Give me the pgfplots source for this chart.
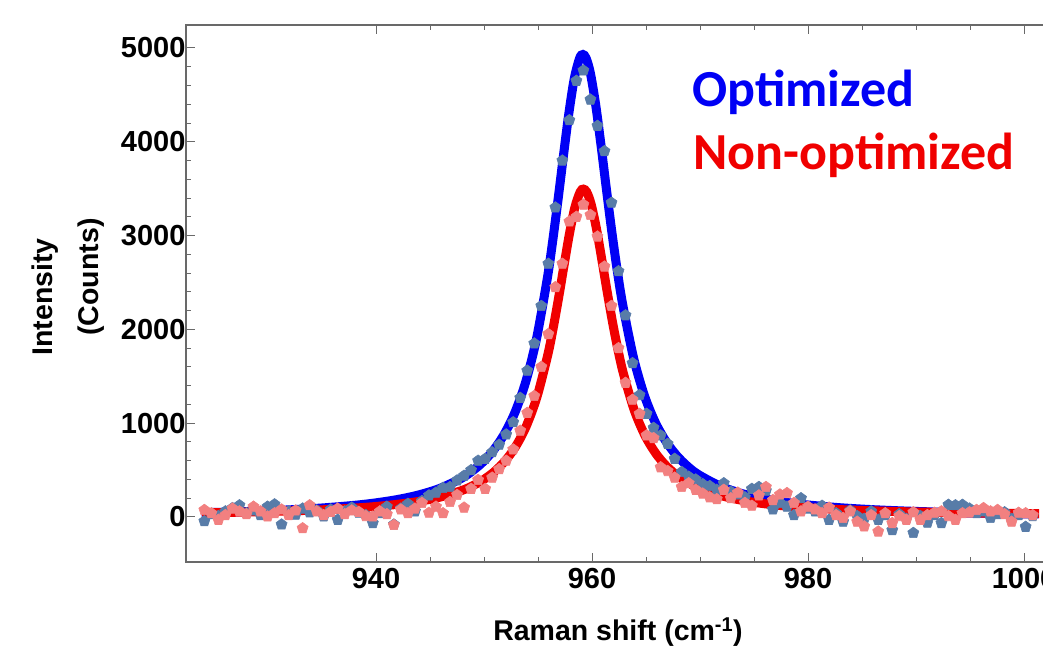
\documentclass[border=0pt]{standalone}
\usepackage{fontspec}
\setmainfont{Liberation Sans}
\newfontfamily\calibri{Carlito}
\usepackage{pgfplots}
\pgfplotsset{compat=1.18}
\usetikzlibrary{plotmarks}
\definecolor{fitblue}{RGB}{0,0,245}
\definecolor{fitred}{RGB}{240,0,0}
\definecolor{ptblue}{RGB}{88,124,168}
\definecolor{ptpink}{RGB}{242,128,128}
\definecolor{framegray}{RGB}{105,105,105}
\begin{document}
\begin{tikzpicture}[x=1pt,y=1pt]
\useasboundingbox (0,0) rectangle (1043,650);
\clip (0,0) rectangle (1043,650);
\begin{axis}[
  at={(186pt,88pt)}, anchor=south west,
  scale only axis, width=892pt, height=537pt,
  xmin=922.4, xmax=1005, ymin=-480, ymax=5245,
  xtick={940,960,980,1000}, minor x tick num=3,
  ytick={0,1000,2000,3000,4000,5000}, minor y tick num=4,
  tick align=inside, major tick length=9pt, minor tick length=5pt,
  axis line style={framegray, line width=1.2pt},
  every tick/.style={framegray, line width=1pt},
  tick label style={font=\fontsize{29}{31}\selectfont\bfseries},
  /pgf/number format/assume math mode=true,
  /pgf/number format/set thousands separator={},
  xticklabel style={yshift=-3pt},
  yticklabel style={xshift=3pt},
  clip=true,
]
% fitted curves
\addplot[fitblue, line width=9pt, smooth] coordinates {
(923.85,45.3)(925.85,50.9)(928.85,61.3)(931.85,75.3)(934.85,94.7)(937.85,122.5)
(939.85,148.4)(941.85,183.3)(943.85,232.0)(945.85,302.4)(947.85,409.1)(948.85,484.4)
(949.85,581.2)(950.85,708.4)(951.85,878.8)(952.85,1112.1)(953.85,1437.3)(954.85,1896.5)
(955.85,2538.6)(956.35,2937.6)(956.85,3382.3)(957.35,3850.7)(957.85,4301.2)(958.35,4671.3)
(958.85,4891.9)(959.15,4930)(959.45,4891.9)(959.85,4729.5)(960.35,4383.8)(960.85,3944)
(961.35,3475)(961.85,3023.4)(962.35,2614.3)(962.85,2257)(963.85,1693.6)(964.85,1293.8)
(965.85,1009.6)(966.85,804.4)(967.85,653.2)(968.85,539.4)(969.85,452.1)(971.85,329.7)
(973.85,250.3)(975.85,196.2)(977.85,157.8)(979.85,129.5)(982.85,99.4)(985.85,78.7)
(988.85,63.8)(991.85,52.7)(994.85,44.3)(997.85,37.8)(1001.35,32)
};
\addplot[fitred, line width=9pt, smooth] coordinates {
(923.9,44)(925.9,48)(928.9,55)(931.9,64)(934.9,76)(937.9,94)(939.9,111)(941.9,134)
(943.9,165)(945.9,211)(947.9,281)(948.9,330)(949.9,394)(950.9,478)(951.9,591)(952.9,746)
(953.9,966)(954.9,1280)(955.9,1728)(956.4,2013)(956.9,2334)(957.4,2678)(957.9,3015)
(958.4,3296)(958.9,3466)(959.2,3495)(959.5,3466)(959.9,3341)(960.4,3078)(960.9,2747)
(961.4,2402)(961.9,2074)(962.4,1782)(962.9,1531)(963.9,1141)(964.9,869)(965.9,678)
(966.9,541)(967.9,441)(968.9,366)(969.9,309)(971.9,229)(973.9,177)(975.9,142)(977.9,117)
(979.9,99)(982.9,79)(985.9,66)(988.9,56)(991.9,49)(994.9,44)(997.9,39)(1001.4,35)
};
% measured points, optimized
\addplot[only marks, mark=pentagon*, mark size=5.8pt, mark options={fill=ptblue, draw=ptblue, line width=0.6pt}] coordinates {
(924.1,-45)(924.75,30)(925.4,10)(926.05,60)(926.7,95)(927.35,125)(928.0,40)(928.65,70)
(929.3,20)(929.95,110)(930.6,135)(931.25,-80)(931.9,60)(932.55,25)(933.2,90)(933.85,50)
(934.5,70)(935.15,5)(935.8,80)(936.45,-30)(937.1,60)(937.75,100)(938.4,45)(939.05,20)
(939.7,-65)(940.35,40)(941.0,110)(941.65,-80)(942.3,90)(942.95,140)(943.6,60)(944.25,170)
(944.9,230)(945.55,260)(946.2,310)(946.85,320)(947.5,390)(948.15,440)(948.8,500)(949.45,600)
(950.1,620)(950.75,690)(951.4,770)(952.05,880)(952.7,1010)(953.35,1270)(954.0,1560)(954.65,1850)
(955.3,2250)(955.95,2700)(956.6,3300)(957.25,3800)(957.9,4230)(958.55,4650)(959.2,4760)(959.85,4450)
(960.5,4170)(961.15,3900)(961.8,3350)(962.45,2620)(963.1,2150)(963.75,1640)(964.4,1300)(965.05,1100)
(965.7,950)(966.35,870)(967.0,780)(967.65,620)(968.3,480)(968.95,430)(969.6,400)(970.25,350)
(970.9,330)(971.55,290)(972.2,360)(972.85,270)(973.5,240)(974.15,210)(974.8,300)(975.45,320)
(976.1,280)(976.75,80)(977.4,150)(978.05,110)(978.7,20)(979.35,200)(980.0,90)(980.65,60)
(981.3,120)(981.95,-30)(982.6,40)(983.25,-50)(983.9,70)(984.55,10)(985.2,-20)(985.85,60)
(986.5,-30)(987.15,20)(987.8,-140)(988.45,30)(989.1,-20)(989.75,-170)(990.4,10)(991.05,-60)
(991.7,20)(992.35,-65)(993.0,130)(993.65,125)(994.3,130)(994.95,90)(995.6,40)(996.25,60)
(996.9,-10)(997.55,30)(998.2,50)(998.85,-20)(999.5,20)(1000.15,-105)(1000.8,10)
};
% measured points, non-optimized
\addplot[only marks, mark=pentagon*, mark size=5.8pt, mark options={fill=ptpink, draw=ptpink, line width=0.6pt}] coordinates {
(924.1,75)(924.75,40)(925.4,-30)(926.05,20)(926.7,90)(927.35,60)(928.0,30)(928.65,110)
(929.3,60)(929.95,5)(930.6,40)(931.25,80)(931.9,20)(932.55,70)(933.2,-120)(933.85,125)
(934.5,60)(935.15,20)(935.8,55)(936.45,90)(937.1,30)(937.75,70)(938.4,55)(939.05,10)
(939.7,5)(940.35,60)(941.0,30)(941.65,-85)(942.3,80)(942.95,40)(943.6,90)(944.25,150)
(944.9,45)(945.55,110)(946.2,40)(946.85,160)(947.5,235)(948.15,100)(948.8,300)(949.45,395)
(950.1,300)(950.75,420)(951.4,510)(952.05,600)(952.7,720)(953.35,920)(954.0,1110)(954.65,1290)
(955.3,1600)(955.95,1950)(956.6,2450)(957.25,2700)(957.9,3150)(958.55,3200)(959.2,3330)(959.85,3220)
(960.5,2990)(961.15,2670)(961.8,2250)(962.45,1800)(963.1,1430)(963.75,1250)(964.4,1100)(965.05,870)
(965.7,840)(966.35,530)(967.0,490)(967.65,420)(968.3,320)(968.95,360)(969.6,290)(970.25,250)
(970.9,210)(971.55,190)(972.2,290)(972.85,200)(973.5,260)(974.15,150)(974.8,120)(975.45,230)
(976.1,320)(976.75,180)(977.4,240)(978.05,255)(978.7,150)(979.35,60)(980.0,110)(980.65,80)
(981.3,40)(981.95,100)(982.6,20)(983.25,-10)(983.9,60)(984.55,-50)(985.2,-100)(985.85,20)
(986.5,-155)(987.15,40)(987.8,-65)(988.45,10)(989.1,-30)(989.75,50)(990.4,-30)(991.05,20)
(991.7,45)(992.35,60)(993.0,10)(993.65,-30)(994.3,40)(994.95,50)(995.6,75)(996.25,95)
(996.9,60)(997.55,75)(998.2,30)(998.85,-50)(999.5,45)(1000.15,40)(1000.8,20)
};
\end{axis}
\node[rotate=90, font=\fontsize{28.5}{30}\selectfont\bfseries] at (45,353) {Intensity};
\node[rotate=90, font=\fontsize{28.5}{30}\selectfont\bfseries] at (91,373) {(Counts)};
\node[font=\fontsize{28.5}{30}\selectfont\bfseries] at (618,18) {Raman shift (cm\textsuperscript{-1})};
\node[anchor=base west, inner sep=0pt, text=fitblue, font=\calibri\fontsize{52}{56}\selectfont\bfseries] at (692,543) {Optimized};
\node[anchor=base west, inner sep=0pt, text=fitred, font=\calibri\fontsize{52}{56}\selectfont\bfseries] at (693,480) {Non-optimized};
\end{tikzpicture}
\end{document}
